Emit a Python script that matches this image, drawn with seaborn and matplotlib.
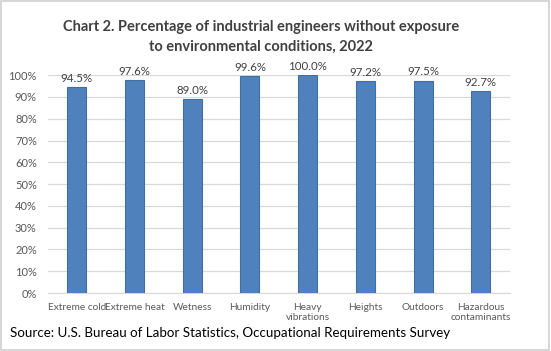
import pandas as pd
import matplotlib.pyplot as plt
import seaborn as sns

categories = ['Extreme cold', 'Extreme heat', 'Wetness', 'Humidity', 'Heavy\nvibrations',
              'Heights', 'Outdoors', 'Hazardous\ncontaminants']
values = [94.5, 97.6, 89.0, 99.6, 100.0, 97.2, 97.5, 92.7]
y_ticks = [0, 10, 20, 30, 40, 50, 60, 70, 80, 90, 100]

df = pd.DataFrame({'condition': categories, 'pct': values})

sns.set_style('white')
plt.rcParams['font.family'] = ['Lato', 'DejaVu Sans']

fig = plt.figure(figsize=(5.51, 3.51), dpi=100)
ax = fig.add_axes([0.087, 0.165, 0.838, 0.621])

sns.barplot(data=df, x='condition', y='pct', color='#4F81BD', width=0.33,
            edgecolor='#41709F', linewidth=0.8, saturation=1, ax=ax, zorder=3)

for i, v in enumerate(values):
    ax.text(i, v + 1.5, f'{v:.1f}%', ha='center', va='bottom', fontsize=8.3,
            color='#404040', clip_on=False)

ax.set_ylim(0, 100)
ax.set_yticks(y_ticks)
ax.set_yticklabels([f'{t}%' for t in y_ticks])
ax.grid(axis='y', color='#D9D9D9', linewidth=0.9, zorder=0)
ax.set_axisbelow(True)
for s in ['top', 'right', 'left']:
    ax.spines[s].set_visible(False)
ax.spines['bottom'].set_color('#D9D9D9')
ax.tick_params(axis='y', length=0, labelsize=8, labelcolor='#595959', pad=8)
ax.tick_params(axis='x', length=0, labelsize=7.3, labelcolor='#595959', pad=7)
for lbl in ax.get_xticklabels():
    lbl.set_linespacing(1.15)
ax.set_xlabel('')
ax.set_ylabel('')

fig.text(0.474, 0.895, 'Chart 2. Percentage of industrial engineers without exposure\nto environmental conditions, 2022',
         ha='center', va='center', fontsize=10.5, fontweight='bold', color='#404040', linespacing=1.45)
fig.text(0.018, 0.052, 'Source: U.S. Bureau of Labor Statistics, Occupational Requirements Survey',
         ha='left', va='center', fontsize=9.6, color='black')

# light gray frame around the figure
fig.patches.append(plt.Rectangle((0.002, 0.003), 0.995, 0.993, transform=fig.transFigure,
                                 fill=False, edgecolor='#D0D0D0', linewidth=1.2))

fig.savefig('out.png', dpi=100)
